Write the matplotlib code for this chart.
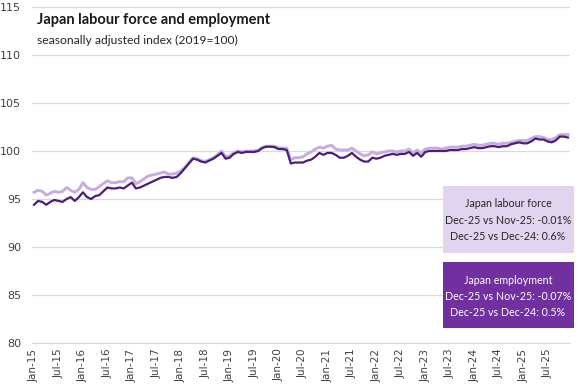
import matplotlib
matplotlib.use("Agg")
import matplotlib.pyplot as plt
import pandas as pd
from matplotlib.patches import Rectangle

# monthly, Jan-15 .. Dec-25, seasonally adjusted index (2019=100)
labour_force = [
    95.7, 95.9, 95.8, 95.4, 95.6, 95.8, 95.7, 95.8, 96.2, 95.9, 95.7, 96.0,   # 2015
    96.7, 96.2, 96.0, 96.0, 96.3, 96.6, 96.9, 96.7, 96.7, 96.8, 96.8, 97.2,   # 2016
    97.2, 96.6, 96.8, 97.1, 97.4, 97.5, 97.6, 97.7, 97.8, 97.6, 97.6, 97.7,   # 2017
    97.9, 98.3, 98.8, 99.3, 99.2, 99.0, 98.9, 99.1, 99.3, 99.6, 100.0, 99.4,  # 2018
    99.5, 99.8, 100.0, 99.9, 100.0, 100.0, 100.0, 100.1, 100.4, 100.5, 100.5, 100.5,  # 2019
    100.3, 100.3, 100.3, 99.1, 99.3, 99.3, 99.4, 99.7, 99.9, 100.2, 100.4, 100.3,     # 2020
    100.5, 100.6, 100.2, 100.1, 100.1, 100.1, 100.3, 100.0, 99.7, 99.5, 99.6, 99.9,   # 2021
    99.7, 99.8, 99.9, 100.0, 100.0, 99.9, 100.0, 100.0, 100.2, 99.8, 100.1, 99.8,     # 2022
    100.2, 100.3, 100.3, 100.3, 100.2, 100.3, 100.4, 100.4, 100.4, 100.5, 100.5, 100.6,  # 2023
    100.7, 100.6, 100.6, 100.7, 100.8, 100.8, 100.7, 100.8, 100.8, 100.9, 101.0, 101.1,  # 2024
    101.1, 101.1, 101.3, 101.5, 101.5, 101.4, 101.2, 101.2, 101.4, 101.7, 101.7, 101.7,  # 2025
]
employment = [
    94.4, 94.8, 94.7, 94.4, 94.7, 94.9, 94.8, 94.7, 95.0, 95.2, 94.8, 95.2,   # 2015
    95.7, 95.2, 95.0, 95.3, 95.4, 95.8, 96.2, 96.1, 96.1, 96.2, 96.1, 96.4,   # 2016
    96.7, 96.1, 96.2, 96.4, 96.6, 96.8, 97.0, 97.2, 97.3, 97.3, 97.2, 97.3,   # 2017
    97.7, 98.2, 98.7, 99.2, 99.1, 98.9, 98.8, 99.0, 99.2, 99.5, 99.8, 99.2,   # 2018
    99.3, 99.7, 99.9, 99.8, 99.9, 99.9, 99.9, 100.0, 100.3, 100.45, 100.45, 100.4,  # 2019
    100.2, 100.2, 100.1, 98.7, 98.8, 98.8, 98.8, 99.0, 99.1, 99.4, 99.8, 99.6,      # 2020
    99.8, 99.8, 99.6, 99.3, 99.3, 99.5, 99.8, 99.4, 99.1, 98.9, 98.9, 99.3,         # 2021
    99.2, 99.3, 99.5, 99.6, 99.7, 99.6, 99.7, 99.7, 99.9, 99.5, 99.8, 99.4,         # 2022
    99.9, 100.0, 100.0, 100.0, 100.0, 100.0, 100.1, 100.1, 100.1, 100.2, 100.2, 100.3,  # 2023
    100.4, 100.3, 100.3, 100.4, 100.5, 100.5, 100.4, 100.5, 100.5, 100.7, 100.8, 100.9,  # 2024
    100.8, 100.8, 101.0, 101.3, 101.2, 101.2, 101.0, 100.9, 101.1, 101.5, 101.5, 101.4,  # 2025
]
months = pd.date_range("2015-01-01", periods=len(employment), freq="MS")
month_labels = [m.strftime("%b-%y") for m in months]

lf_text = ["Japan labour force", "Dec-25 vs Nov-25: -0.01%", "Dec-25 vs Dec-24: 0.6%"]
emp_text = ["Japan employment", "Dec-25 vs Nov-25: -0.07%", "Dec-25 vs Dec-24: 0.5%"]

light = "#C8ABE2"
dark = "#4A1F78"
box_light = "#E0D4EF"
box_dark = "#7030A0"

W, H = 577, 385
fig = plt.figure(figsize=(W / 100, H / 100), dpi=100)
ax = fig.add_axes([32 / W, 1 - 343 / H, (570 - 32) / W, (343 - 7) / H])

x = range(len(employment))
ax.plot(x, labour_force, color=light, lw=2.1, zorder=3)
ax.plot(x, employment, color=dark, lw=1.6, zorder=4)

ax.set_ylim(80, 115)
ax.set_xlim(-0.5, len(employment) - 0.5)
ax.set_yticks(range(80, 116, 5))
ax.yaxis.grid(True, color="#D9D9D9", lw=0.9)
ax.set_axisbelow(True)
ax.set_xticks(list(x)[::6])
ax.set_xticklabels(month_labels[::6], rotation=90, fontsize=7.5, color="#404040")
ax.tick_params(axis="both", length=0, colors="#404040")
ax.tick_params(axis="y", labelsize=8, pad=8)
ax.tick_params(axis="x", pad=4)
for s in ["top", "right", "left"]:
    ax.spines[s].set_visible(False)
ax.spines["bottom"].set_color("#D9D9D9")

fig.text(37 / W, 1 - 20 / H, "Japan labour force and employment", fontsize=10.5,
         fontweight="bold", color="#1a1a1a", va="center", family="Lato")
fig.text(37 / W, 1 - 40 / H, "seasonally adjusted index (2019=100)", fontsize=8.7,
         color="#262626", va="center", family="Lato")

# annotation boxes (pixel coords from top-left)
def box(y0, y1, fc, tc, lines, first, step):
    fig.patches.append(Rectangle((443 / W, 1 - y1 / H), (574 - 443) / W, (y1 - y0) / H,
                                 transform=fig.transFigure, facecolor=fc, edgecolor="none"))
    for i, t in enumerate(lines):
        fig.text(508 / W, 1 - (first + step * i) / H, t, ha="center", va="center",
                 fontsize=7.7, color=tc, family="Lato")

box(186, 253, box_light, "#262626", lf_text, 204, 16.5)
box(262, 328, box_dark, "white", emp_text, 280, 16)

fig.savefig("out.png", dpi=100)
